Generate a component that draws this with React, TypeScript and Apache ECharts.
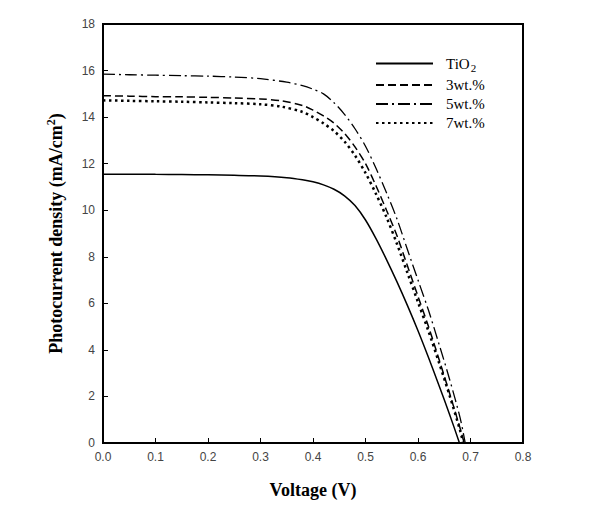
import React, { useEffect, useRef } from "react";
import * as echarts from "echarts";

const tio2V = [0, 0.05, 0.1, 0.15, 0.2, 0.25, 0.3, 0.35, 0.38, 0.4, 0.42, 0.44, 0.46, 0.48, 0.5, 0.52, 0.54, 0.56, 0.58, 0.6, 0.62, 0.64, 0.66, 0.679];
const tio2J = [11.55, 11.55, 11.54, 11.53, 11.52, 11.5, 11.47, 11.4, 11.31, 11.22, 11.09, 10.9, 10.62, 10.2, 9.58, 8.78, 7.88, 6.92, 5.9, 4.82, 3.67, 2.47, 1.24, 0];

const wt3V = [0, 0.05, 0.1, 0.15, 0.2, 0.25, 0.3, 0.34, 0.38, 0.4, 0.42, 0.44, 0.46, 0.48, 0.5, 0.52, 0.54, 0.56, 0.58, 0.6, 0.62, 0.64, 0.66, 0.68, 0.688];
const wt3J = [14.92, 14.9, 14.88, 14.87, 14.85, 14.82, 14.78, 14.7, 14.5, 14.3, 14.05, 13.74, 13.3, 12.72, 12.0, 11.05, 10.0, 8.9, 7.6, 6.3, 5.0, 3.6, 2.15, 0.65, 0];

const wt5V = [0, 0.05, 0.1, 0.15, 0.2, 0.25, 0.3, 0.35, 0.38, 0.4, 0.42, 0.44, 0.46, 0.48, 0.5, 0.52, 0.54, 0.56, 0.58, 0.6, 0.62, 0.64, 0.66, 0.68, 0.69];
const wt5J = [15.85, 15.82, 15.8, 15.78, 15.76, 15.72, 15.65, 15.5, 15.35, 15.2, 15.0, 14.62, 14.12, 13.5, 12.75, 11.8, 10.75, 9.62, 8.3, 7.0, 5.7, 4.25, 2.75, 1.1, 0];

const wt7V = [0, 0.05, 0.1, 0.15, 0.2, 0.25, 0.3, 0.34, 0.38, 0.4, 0.42, 0.44, 0.46, 0.48, 0.5, 0.52, 0.54, 0.56, 0.58, 0.6, 0.62, 0.64, 0.66, 0.68, 0.686];
const wt7J = [14.72, 14.7, 14.68, 14.66, 14.63, 14.6, 14.55, 14.45, 14.22, 14.0, 13.73, 13.4, 12.95, 12.35, 11.6, 10.7, 9.7, 8.55, 7.3, 6.05, 4.8, 3.45, 2.05, 0.55, 0];

const seriesNames = ["TiO2", "3wt.%", "5wt.%", "7wt.%"];
const xTicks = { min: 0, max: 0.8, interval: 0.1 };
const yTicks = { min: 0, max: 18, interval: 2 };

const zip = (xs: number[], ys: number[]) => xs.map((x, i) => [x, ys[i]]);

export default function App() {
  const ref = useRef<HTMLDivElement>(null);
  useEffect(() => {
    if (!ref.current) return;
    const chart = echarts.init(ref.current, null, { renderer: "svg" });
    const serif = "Liberation Serif";
    const mk = (name: string, data: number[][], type: any, width: number) => ({
      name,
      type: "line",
      data,
      symbol: "none",
      smooth: 0.3,
      lineStyle: { color: "#000", width, type, cap: "butt" },
      itemStyle: { color: "rgba(0,0,0,0)" },
    });
    chart.setOption({
      animation: false,
      backgroundColor: "#fff",
      grid: {
        left: 103,
        top: 24,
        width: 420,
        height: 419,
        show: true,
        borderColor: "#000",
        borderWidth: 2,
        backgroundColor: "transparent",
      },
      legend: {
        orient: "vertical",
        left: 375,
        top: 56,
        padding: 0,
        itemWidth: 57,
        itemHeight: 14,
        itemGap: 4,
        data: seriesNames,
        itemStyle: { color: "rgba(0,0,0,0)", borderWidth: 0 },
        formatter: (n: string) => (n === "TiO2" ? "{a|TiO}{b|2}" : "{a|" + n + "}"),
        textStyle: {
          padding: [0, 0, 0, 8],
          rich: {
            a: { fontFamily: serif, fontSize: 15, color: "#000" },
            b: { fontFamily: serif, fontSize: 11, color: "#000", padding: [9, 0, 0, 1] },
          },
        },
      },
      xAxis: {
        type: "value",
        min: xTicks.min,
        max: xTicks.max,
        interval: xTicks.interval,
        name: "Voltage (V)",
        nameLocation: "middle",
        nameGap: 38,
        nameTextStyle: { fontFamily: serif, fontSize: 18, fontWeight: "bold", color: "#000" },
        axisLine: { show: true, lineStyle: { color: "#000", width: 2 } },
        axisTick: { show: true, inside: true, length: 5, lineStyle: { color: "#000", width: 1 } },
        axisLabel: {
          formatter: (v: number) => v.toFixed(1),
          fontFamily: "Liberation Sans",
          fontSize: 12,
          color: "#444",
          margin: 8,
        },
        splitLine: { show: false },
      },
      yAxis: {
        type: "value",
        min: yTicks.min,
        max: yTicks.max,
        interval: yTicks.interval,
        name: "{a|Photocurrent density (mA/cm}{s|2}{a|)}",
        nameLocation: "middle",
        nameGap: 36,
        nameRotate: 90,
        nameTextStyle: {
          rich: {
            a: { fontFamily: serif, fontSize: 18, fontWeight: "bold", color: "#000" },
            s: { fontFamily: serif, fontSize: 12, fontWeight: "bold", color: "#000", padding: [0, 0, 10, 0] },
          },
        },
        axisLine: { show: true, lineStyle: { color: "#000", width: 2 } },
        axisTick: { show: true, inside: true, length: 5, lineStyle: { color: "#000", width: 1 } },
        axisLabel: {
          fontFamily: "Liberation Sans",
          fontSize: 12,
          color: "#444",
          margin: 8,
        },
        splitLine: { show: false },
      },
      series: [
        mk(seriesNames[0], zip(tio2V, tio2J), "solid", 1.5),
        mk(seriesNames[1], zip(wt3V, wt3J), [8, 4], 1.5),
        mk(seriesNames[2], zip(wt5V, wt5J), [12, 4, 2, 4], 1.3),
        mk(seriesNames[3], zip(wt7V, wt7J), [2.5, 3.5], 2.5),
      ],
    });
    return () => chart.dispose();
  }, []);
  return <div ref={ref} style={{ position: "fixed", left: 0, top: 0, width: 600, height: 510 }} />;
}
